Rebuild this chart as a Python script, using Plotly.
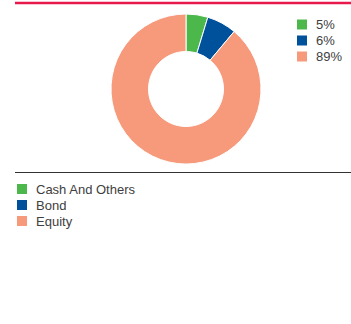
import plotly.graph_objects as go

# Data
categories = ["Cash And Others", "Bond", "Equity"]
values = [4.7, 6.4, 88.9]
pct_labels = ["5%", "6%", "89%"]
colors = ["#4cb84b", "#00519c", "#f69a7b"]

W, H = 351, 324

def px_x(x):
    return x / W

def px_y(y):
    return 1 - y / H

fig = go.Figure()
fig.add_trace(go.Pie(
    labels=categories,
    values=values,
    hole=0.5,
    sort=False,
    direction="clockwise",
    rotation=0,
    marker=dict(colors=colors, line=dict(color="white", width=1)),
    textinfo="none",
    hoverinfo="label+percent",
    showlegend=False,
    domain=dict(x=[px_x(111), px_x(261)], y=[px_y(164), px_y(14)]),
))

shapes = [
    dict(type="line", xref="paper", yref="paper", x0=px_x(15), x1=1,
         y0=px_y(3), y1=px_y(3), line=dict(color="#e8194b", width=2.5)),
    dict(type="line", xref="paper", yref="paper", x0=px_x(15), x1=1,
         y0=px_y(172.5), y1=px_y(172.5), line=dict(color="#333333", width=1.2)),
]
annotations = []
font = dict(family="Liberation Sans, Arial, sans-serif", size=13, color="#404040")

# Right legend (percentages)
for i, (lab, col) in enumerate(zip(pct_labels, colors)):
    yc = 24.5 + 16 * i
    shapes.append(dict(type="rect", xref="paper", yref="paper",
                       x0=px_x(297), x1=px_x(307), y0=px_y(yc - 5), y1=px_y(yc + 5),
                       fillcolor=col, line=dict(width=0)))
    annotations.append(dict(text=lab, xref="paper", yref="paper", x=px_x(314),
                            y=px_y(yc), xanchor="left", yanchor="middle",
                            showarrow=False, font=font))

# Bottom legend (categories)
for i, (lab, col) in enumerate(zip(categories, colors)):
    yc = 189 + 16 * i
    shapes.append(dict(type="rect", xref="paper", yref="paper",
                       x0=px_x(17), x1=px_x(27), y0=px_y(yc - 5), y1=px_y(yc + 5),
                       fillcolor=col, line=dict(width=0)))
    annotations.append(dict(text=lab, xref="paper", yref="paper", x=px_x(34),
                            y=px_y(yc), xanchor="left", yanchor="middle",
                            showarrow=False, font=font))

fig.update_layout(
    width=W, height=H,
    margin=dict(l=0, r=0, t=0, b=0),
    paper_bgcolor="white", plot_bgcolor="white",
    shapes=shapes, annotations=annotations,
    showlegend=False,
)

fig.write_html("out.html", config={"displayModeBar": False})
